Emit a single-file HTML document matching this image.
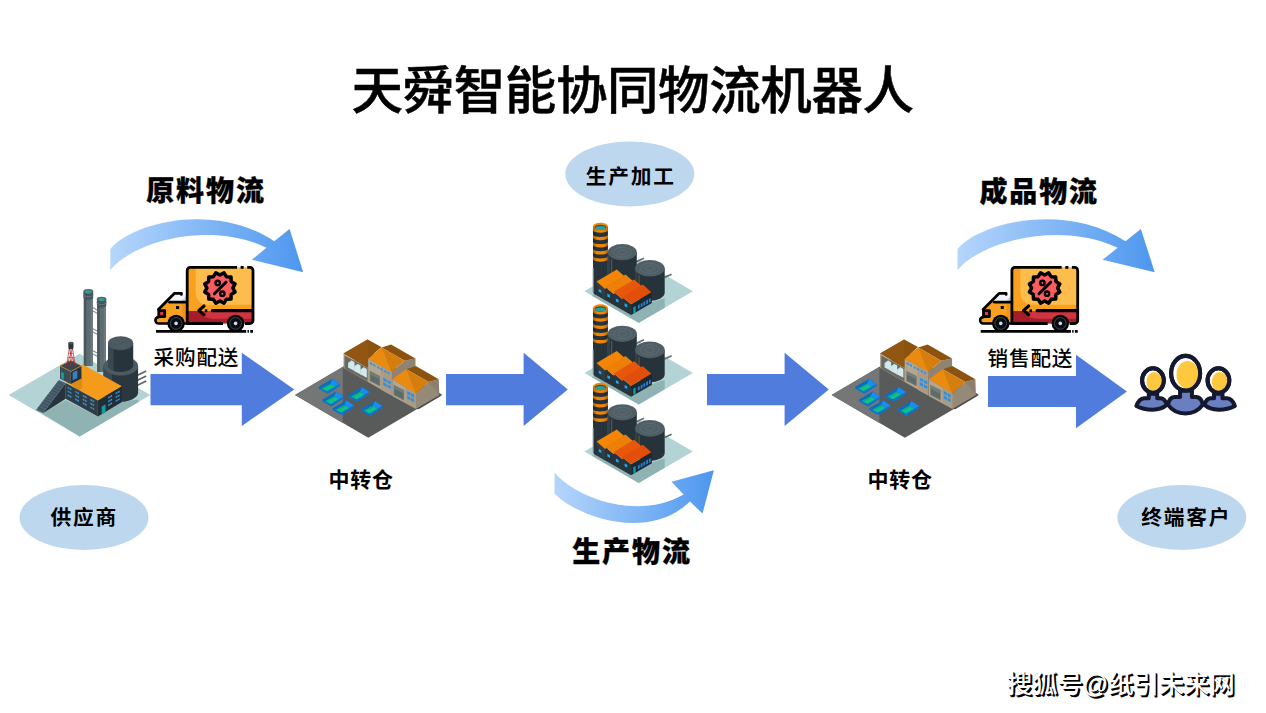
<!DOCTYPE html>
<html lang="zh-CN">
<head>
<meta charset="utf-8">
<title>天舜智能协同物流机器人</title>
<style>
html,body{margin:0;padding:0;background:#fff;}
body{width:1266px;height:713px;position:relative;overflow:hidden;font-family:"Liberation Sans","Noto Sans CJK SC",sans-serif;color:#000;}
#art{position:absolute;left:0;top:0;width:1266px;height:713px;display:block;}
.t{position:absolute;white-space:nowrap;line-height:1;margin:0;}
.title{left:351.5px;top:66px;font-size:51.5px;font-weight:500;font-family:"Liberation Sans","Noto Sans CJK SC Medium","Noto Sans CJK SC",sans-serif;-webkit-text-stroke:0.5px #000;letter-spacing:-0.4px;}
.h{font-size:28px;font-weight:900;letter-spacing:1.9px;-webkit-text-stroke:0.3px #000;}
.lb{font-size:20.7px;font-weight:700;letter-spacing:1.8px;}
.sm{font-size:20.6px;font-weight:500;font-family:"Liberation Sans","Noto Sans CJK SC Medium","Noto Sans CJK SC",sans-serif;letter-spacing:0.9px;}
.wm{font-size:25.25px;font-weight:500;font-family:"Liberation Sans","Noto Sans CJK SC Medium","Noto Sans CJK SC",sans-serif;color:#fff;text-shadow:1px 1px 0 #000,1.9px 1.9px 0 #000;}
</style>
</head>
<body>
<svg id="art" width="1266" height="713" viewBox="0 0 1266 713">
<defs>
<linearGradient id="gArcL" gradientUnits="userSpaceOnUse" x1="110" y1="0" x2="303" y2="0"><stop offset="0" stop-color="#b6d6fb"/><stop offset="1" stop-color="#4d97ef"/></linearGradient>
<linearGradient id="gArcR" gradientUnits="userSpaceOnUse" x1="957" y1="0" x2="1155" y2="0"><stop offset="0" stop-color="#b6d6fb"/><stop offset="1" stop-color="#4d97ef"/></linearGradient>
<linearGradient id="gArcB" gradientUnits="userSpaceOnUse" x1="554" y1="0" x2="714" y2="0"><stop offset="0" stop-color="#b6d6fb"/><stop offset="1" stop-color="#4d97ef"/></linearGradient>
<linearGradient id="gCh" x1="0" y1="0" x2="1" y2="0"><stop offset="0" stop-color="#000" stop-opacity="0.28"/><stop offset="0.3" stop-color="#000" stop-opacity="0"/><stop offset="0.7" stop-color="#000" stop-opacity="0"/><stop offset="1" stop-color="#000" stop-opacity="0.22"/></linearGradient>
</defs>
<!-- label ellipses -->
<g id="ellipses" fill="#bdd7ee">
<ellipse cx="629.8" cy="174" rx="64.5" ry="32.5"/>
<ellipse cx="84" cy="517.5" rx="64.5" ry="32.4"/>
<ellipse cx="1181.8" cy="517.5" rx="64.5" ry="32.4"/>
</g>
<!-- block arrows -->
<g id="arrows" fill="#4f7cdd">
<path d="M150.5 374H241.8V352.8L294.3 389.4L241.8 426V405.3H150.5Z"/>
<path d="M446 374H523.6V352.8L567.8 389.4L523.6 426V405.3H446Z"/>
<path d="M707 374H784.6V352.8L828.8 389.4L784.6 426V405.3H707Z"/>
<path d="M988 376H1076V354.7L1126.9 391.5L1076 428.3V407.1H988Z"/>
</g>
<!--ICONS1-->
<!-- curved gradient arrows -->
<g id="curves">
<path fill="url(#gArcL)" d="M110.3 249C133 222 215 202 274.2 241.2L289.6 229.1L303.2 272.2L251.8 259.8L266.4 247.8C212 221 135 240 110.3 270Z"/>
<path fill="url(#gArcR)" d="M957.5 249C980.8 222 1064.8 202 1125.5 241.2L1140.9 229.1L1154.7 272.2L1102.6 259.8L1117.7 247.8C1061.7 221 982.8 240 957.5 270Z"/>
<path fill="url(#gArcB)" d="M554.5 472.5C578 500 640 520 683.6 494.6L671.5 481.8L713.9 470.2L702.5 513.6L690 501.5C648 542 578 517 554.5 493.7Z"/>
</g>
<!-- delivery trucks -->
<g id="truck">
<path d="M156 331.3H246.2M247.5 331.3H248.9M250.2 331.3H253" stroke="#000" stroke-width="2.8" fill="none"/>
<!-- cab -->
<path d="M165.6 302H187V323.5H158.6A3.2 3.2 0 0 1 158.6 317.1L158.4 309.4Z" fill="#f9a11f"/>
<path d="M181.9 303.5H187V322H181.9Z" fill="#ef9320"/>
<path d="M175.8 294.7H186V301H169.6Z" fill="#f0f5fc"/>
<path d="M181.6 301L186 295.6V301Z" fill="#c1d6f0"/>
<path d="M181.4 294.4V293.4H174.3L158.4 309.4" stroke="#000" stroke-width="2.8" fill="none" stroke-linecap="round" stroke-linejoin="round"/>
<rect x="158.8" y="310.6" width="5.9" height="5.9" fill="#e5394b" stroke="#000" stroke-width="2.8" stroke-linejoin="round"/>
<path d="M158.8 317.1H158.6A3.2 3.2 0 0 0 158.6 323.5H187" stroke="#000" stroke-width="2.6" fill="none" stroke-linecap="round" stroke-linejoin="round"/>
<path d="M169.6 302.2H187" stroke="#000" stroke-width="2.8" fill="none" stroke-linecap="round"/>
<rect x="176" y="306" width="3.1" height="3" fill="#000"/>
<!-- box -->
<path d="M187.2 270.5A3 3 0 0 1 190.2 267.5H250A3 3 0 0 1 253 270.5V320.5A3 3 0 0 1 250 323.5H187.2Z" fill="#f9a11f"/>
<path d="M187.2 311H253V320.5A3 3 0 0 1 250 323.5H187.2Z" fill="#a51d28"/>
<path d="M195.6 267.5H253V304.8H208.6Q195.6 304.8 195.6 291Z" fill="#fdbc4b"/>
<path d="M198.5 311H253V318.8H213Q203 318.8 198.5 311Z" fill="#cf3440"/>
<path d="M237 267.4H190.2A3 3 0 0 0 187.2 270.4V323.5H223M247.2 267.4H250A3 3 0 0 1 253 270.4V320.5A3 3 0 0 1 250 323.5H245" stroke="#000" stroke-width="2.8" fill="none" stroke-linejoin="round"/>
<rect x="240.6" y="266" width="3.1" height="2.8" fill="#000"/>
<path d="M212.4 310.7H252" stroke="#000" stroke-width="3.2" fill="none" stroke-linecap="round"/>
<rect x="204.8" y="309.3" width="2.5" height="2.9" fill="#000"/>
<path d="M204 306L198.9 310.4L204 314.7" stroke="#000" stroke-width="3.1" fill="none" stroke-linecap="round" stroke-linejoin="round"/>
<!-- badge -->
<path d="M224.0 272.8L226.4 276.7L231.0 276.9L231.2 281.5L235.1 283.9L232.9 288.0L235.1 292.1L231.2 294.5L231.0 299.1L226.4 299.3L224.0 303.2L219.9 301.0L215.8 303.2L213.4 299.3L208.8 299.1L208.6 294.5L204.7 292.1L206.9 288.0L204.7 283.9L208.6 281.5L208.8 276.9L213.4 276.7L215.8 272.8L219.9 275.0Z" fill="#fb5c60" stroke="#000" stroke-width="3.5" stroke-linejoin="round"/>
<path d="M226 282.2L214.3 293.8" stroke="#000" stroke-width="3" fill="none" stroke-linecap="round"/>
<circle cx="217.7" cy="282.9" r="2.2" fill="none" stroke="#000" stroke-width="2.4"/>
<circle cx="222.3" cy="293.7" r="2.2" fill="none" stroke="#000" stroke-width="2.4"/>
<!-- wheels -->
<g id="wheel">
<circle cx="176.1" cy="323.4" r="8.7" fill="#000"/>
<circle cx="176.1" cy="323.4" r="5.9" fill="#0b0d10" stroke="#4a5a66" stroke-width="0.8"/>
<circle cx="176.1" cy="323.4" r="1.8" fill="#c9def4"/>
</g>
<use href="#wheel" x="59.5" y="0"/>
</g>
<use href="#truck" x="824.7" y="0"/>
<!-- customers -->
<g id="people" transform="translate(1120 340) scale(0.12621)" stroke="#15192f" stroke-width="32" stroke-linejoin="round">
<path d="M228 425V462H192Q150 466 130 523Q185 552 258 552Q330 552 372 514Q355 466 325 462H295V425Z" fill="#6a7fc1"/>
<path d="M812 425V462H848Q890 466 910 523Q855 552 782 552Q710 552 668 514Q685 466 715 462H745V425Z" fill="#6a7fc1"/>
<path d="M476 400V451H432Q388 455 381 514Q430 582 518 582Q606 582 655 514Q648 455 604 451H570V400Z" fill="#6a7fc1"/>
<ellipse cx="261" cy="321" rx="86" ry="97" fill="#fff"/>
<ellipse cx="780" cy="321" rx="86" ry="97" fill="#fff"/>
<ellipse cx="520" cy="263.4" rx="115" ry="137.5" fill="#fff"/>
<g stroke="none" fill="#fec93f">
<ellipse cx="272" cy="332" rx="62" ry="79"/>
<ellipse cx="790" cy="332" rx="62" ry="79"/>
<ellipse cx="535.6" cy="277" rx="88" ry="111"/>
</g>
<g fill="none">
<ellipse cx="261" cy="321" rx="86" ry="97"/>
<ellipse cx="780" cy="321" rx="86" ry="97"/>
<ellipse cx="520" cy="263.4" rx="115" ry="137.5"/>
</g>
</g>
<!--/ICONS1-->
<!--ICONS2-->
<g id="supplier">
<polygon points="8.6,395.1 79.6,353.8 150.4,395.1 79.6,436.6" fill="#b3d3d4"/>
<polygon points="42.3,413.6 65.7,399.9 97.3,416.6 122.0,402.1 137.8,399.5 139.0,401.8 79.6,436.6" fill="#8fb2b3"/>
<path d="M92.6 307.5L97.6 310.3M92.6 310.7L97.6 313.5M92.6 328.5L97.6 331.3M92.6 331.7L97.6 334.5M92.6 350.5L97.6 353.3M92.6 353.7L97.6 356.5" stroke="#84929a" stroke-width="1.1" fill="none"/>
<path d="M83.8 291.5V366H92.9V291.5Z" fill="#5e6d72"/>
<path d="M83.8 291.5V366H86.39999999999999V291.5Z" fill="#4a585d"/>
<path d="M90.7 291.5V366H92.9V291.5Z" fill="#6c7b80"/>
<path d="M83.5 291.5V297.3A4.850000000000004 2.4 0 0 0 93.2 297.3V291.5Z" fill="#46545a"/>
<path d="M83.5 294.40000000000003A4.850000000000004 2.4 0 0 0 93.2 294.40000000000003" fill="none" stroke="#6f7e84" stroke-width="0.8"/>
<ellipse cx="88.35" cy="291.5" rx="4.850000000000004" ry="2.4" fill="#55656b"/>
<ellipse cx="88.35" cy="291.7" rx="3.2500000000000044" ry="1.5" fill="#2f9d98"/>
<path d="M97.2 299.2V372H106V299.2Z" fill="#5e6d72"/>
<path d="M97.2 299.2V372H99.8V299.2Z" fill="#4a585d"/>
<path d="M103.8 299.2V372H106V299.2Z" fill="#6c7b80"/>
<path d="M96.9 299.2V305.0A4.699999999999998 2.4 0 0 0 106.3 305.0V299.2Z" fill="#46545a"/>
<path d="M96.9 302.1A4.699999999999998 2.4 0 0 0 106.3 302.1" fill="none" stroke="#6f7e84" stroke-width="0.8"/>
<ellipse cx="101.6" cy="299.2" rx="4.699999999999998" ry="2.4" fill="#55656b"/>
<ellipse cx="101.6" cy="299.4" rx="3.0999999999999988" ry="1.5" fill="#2f9d98"/>
<path d="M137 375.4L146.2 371M137 380.4L146.2 376M137 385.4L146.2 381" stroke="#55656c" stroke-width="1.7" fill="none"/>
<path d="M103.5 366V392.2A17.3 9.6 0 0 0 138.1 392.2V366Z" fill="#2a373e"/>
<path d="M103.5 366V392.2A17.3 9.6 0 0 0 112 400.4V374Z" fill="#3b4950"/>
<ellipse cx="120.8" cy="366" rx="17.3" ry="9.6" fill="#4c5b62"/>
<path d="M108 343.2V365A12.6 7 0 0 0 133.2 365V343.2Z" fill="#27343b"/>
<path d="M108 343.2V365A12.6 7 0 0 0 113.6 370.8V349Z" fill="#3a484f"/>
<ellipse cx="120.6" cy="343.2" rx="12.6" ry="7" fill="#4a595f"/>
<ellipse cx="120.6" cy="343.2" rx="8.3" ry="4.6" fill="none" stroke="#55646a" stroke-width="0.6"/>
<ellipse cx="120.6" cy="343.2" rx="4.3" ry="2.4" fill="none" stroke="#566469" stroke-width="0.6"/>
<polygon points="65.7,382.6 70.8,381.6 80.9,378.1 82.4,364.2 122.0,386.3 97.9,400.6" fill="#f49b1c"/>
<polygon points="70.8,383.9 82.1,377.8 82.1,387.9 78.4,390.2" fill="#dc8a18"/>
<polygon points="65.7,383.1 97.9,400.6 97.9,416.6 65.7,398.7" fill="#2f3c44"/>
<polygon points="97.9,400.6 122.0,386.3 122.0,402.1 97.9,416.6" fill="#222e35"/>
<polygon points="67.6,386.7 71.4,388.7 71.4,390.3 67.6,388.3" fill="#3a94dc"/>
<polygon points="69.3,387.5 69.8,387.8 69.8,389.4 69.3,389.2" fill="#2f3c44"/>
<polygon points="67.6,390.4 71.4,392.5 71.4,394.1 67.6,392.1" fill="#3a94dc"/>
<polygon points="69.3,391.3 69.8,391.6 69.8,393.2 69.3,393.0" fill="#2f3c44"/>
<polygon points="67.6,394.2 71.4,396.3 71.4,397.9 67.6,395.9" fill="#3a94dc"/>
<polygon points="69.3,395.1 69.8,395.4 69.8,397.0 69.3,396.8" fill="#2f3c44"/>
<polygon points="75.2,390.7 79.0,392.7 79.0,394.4 75.2,392.3" fill="#3a94dc"/>
<polygon points="76.8,391.6 77.3,391.8 77.3,393.5 76.8,393.2" fill="#2f3c44"/>
<polygon points="75.2,394.5 79.0,396.5 79.0,398.2 75.2,396.1" fill="#3a94dc"/>
<polygon points="76.8,395.4 77.3,395.6 77.3,397.3 76.8,397.0" fill="#2f3c44"/>
<polygon points="75.2,398.3 79.0,400.3 79.0,401.9 75.2,399.9" fill="#3a94dc"/>
<polygon points="76.8,399.2 77.3,399.4 77.3,401.1 76.8,400.8" fill="#2f3c44"/>
<polygon points="82.8,394.7 86.6,396.8 86.6,398.4 82.8,396.4" fill="#3a94dc"/>
<polygon points="84.4,395.6 84.9,395.9 84.9,397.5 84.4,397.3" fill="#2f3c44"/>
<polygon points="82.8,398.5 86.6,400.6 86.6,402.2 82.8,400.2" fill="#3a94dc"/>
<polygon points="84.4,399.4 84.9,399.7 84.9,401.3 84.4,401.1" fill="#2f3c44"/>
<polygon points="82.8,402.3 86.6,404.3 86.6,406.0 82.8,404.0" fill="#3a94dc"/>
<polygon points="84.4,403.2 84.9,403.5 84.9,405.1 84.4,404.8" fill="#2f3c44"/>
<polygon points="90.4,398.8 94.2,400.8 94.2,402.4 90.4,400.4" fill="#3a94dc"/>
<polygon points="92.0,399.7 92.5,399.9 92.5,401.6 92.0,401.3" fill="#2f3c44"/>
<polygon points="90.4,402.6 94.2,404.6 94.2,406.2 90.4,404.2" fill="#3a94dc"/>
<polygon points="92.0,403.5 92.5,403.7 92.5,405.4 92.0,405.1" fill="#2f3c44"/>
<polygon points="90.4,406.4 94.2,408.4 94.2,410.0 90.4,408.0" fill="#3a94dc"/>
<polygon points="92.0,407.3 92.5,407.5 92.5,409.1 92.0,408.9" fill="#2f3c44"/>
<polygon points="108.1,397.0 112.1,394.7 112.1,396.4 108.1,398.7" fill="#3a94dc"/>
<polygon points="109.8,396.0 110.3,395.8 110.3,397.4 109.8,397.6" fill="#222e35"/>
<polygon points="108.1,400.8 112.1,398.5 112.1,400.2 108.1,402.4" fill="#3a94dc"/>
<polygon points="109.8,399.8 110.3,399.5 110.3,401.2 109.8,401.4" fill="#222e35"/>
<polygon points="108.1,404.6 112.1,402.3 112.1,404.0 108.1,406.2" fill="#3a94dc"/>
<polygon points="109.8,403.6 110.3,403.3 110.3,405.0 109.8,405.2" fill="#222e35"/>
<polygon points="115.6,392.8 119.7,390.6 119.7,392.2 115.6,394.5" fill="#3a94dc"/>
<polygon points="117.4,391.8 117.9,391.6 117.9,393.2 117.4,393.5" fill="#222e35"/>
<polygon points="115.6,396.6 119.7,394.4 119.7,396.0 115.6,398.3" fill="#3a94dc"/>
<polygon points="117.4,395.6 117.9,395.4 117.9,397.0 117.4,397.3" fill="#222e35"/>
<polygon points="115.6,400.4 119.7,398.2 119.7,399.8 115.6,402.1" fill="#3a94dc"/>
<polygon points="117.4,399.4 117.9,399.2 117.9,400.8 117.4,401.1" fill="#222e35"/>
<polygon points="101.7,406.5 105.5,404.3 105.5,412.2 101.7,414.2" fill="#169d9b"/>
<polygon points="43.0,413.2 65.7,383.1 65.7,398.7" fill="#27343b"/>
<polygon points="36.0,410.0 43.0,413.2 65.7,383.1 58.8,380.1" fill="#4b5f6e"/>
<path d="M37.9 407.5L44.9 410.7M39.8 405.0L46.8 408.2M41.7 402.5L48.7 405.7M43.6 400.0L50.6 403.2M45.5 397.6L52.4 400.7M47.4 395.1L54.3 398.2M49.3 392.6L56.2 395.6M51.2 390.1L58.1 393.1M53.1 387.6L60.0 390.6M55.0 385.1L61.9 388.1M56.9 382.6L63.8 385.6" stroke="#35475a" stroke-width="0.7" fill="none"/>
<polygon points="60.0,365.8 70.8,371.5 70.8,383.9 60.0,378.8" fill="#3d4b53"/>
<polygon points="70.8,371.5 81.5,365.8 81.5,378.4 70.8,383.9" fill="#27333a"/>
<polygon points="60.0,365.8 70.8,360.4 81.5,365.8 70.8,371.5" fill="#39464d" stroke="#f0981c" stroke-width="0.6"/>
<polygon points="61.2,371.7 63.8,373.1 63.8,379.7 61.2,378.3" fill="#17a19c"/>
<polygon points="72.7,372.5 77.3,370.2 77.3,378.1 72.7,380.3" fill="#3a7fc0"/>
<path d="M69.2 349L66.6 365M72.6 349L75.2 365M70.9 349V366.5M69.2 349L75.2 365M72.6 349L66.6 365M68.5 353.4H73.3M67.9 357.6H73.9M67.2 361.6H74.6" stroke="#b9242b" stroke-width="0.65" fill="none"/>
<path d="M68.3 343V348A2.6 1.3 0 0 0 73.5 348V343Z" fill="#2b3840"/>
<ellipse cx="70.9" cy="343" rx="2.6" ry="1.3" fill="#46555c"/>
</g>
<g id="wh">
<polygon points="295,395 368.7,351.6 442,394.4 368.3,437.8" fill="#595a5a"/>
<polygon points="295,395 342.8,366.9 342.8,423 " fill="#757676"/>
<polygon points="318.3,387.1 332.5,378.8 340.2,383.9 339.8,385.9 328.9,393.3 327.5,393.7 318.9,388.8" fill="#1273c6"/>
<polygon points="318.6,387.1 332.5,379.1 330.3,383.9 321.8,388.4" fill="#0f6bbb"/>
<polygon points="330.3,383.9 332.5,379.1 339.7,383.9 335.0,386.5" fill="#1b8df0"/>
<polygon points="321.8,388.4 330.3,383.9 335.0,386.5 327.1,391.2" fill="#0bc28c"/>
<polygon points="321.8,388.4 330.3,383.9 331.5,384.6 323.1,389.1" fill="#0aab7e"/>
<polygon points="322.0,399.8 336.2,391.5 343.9,396.6 343.5,398.6 332.6,406.0 331.2,406.4 322.6,401.5" fill="#1273c6"/>
<polygon points="322.3,399.8 336.2,391.8 334.0,396.6 325.5,401.1" fill="#0f6bbb"/>
<polygon points="334.0,396.6 336.2,391.8 343.4,396.6 338.7,399.2" fill="#1b8df0"/>
<polygon points="325.5,401.1 334.0,396.6 338.7,399.2 330.8,403.9" fill="#0bc28c"/>
<polygon points="325.5,401.1 334.0,396.6 335.2,397.3 326.8,401.8" fill="#0aab7e"/>
<polygon points="347.8,395.2 362.0,386.9 369.7,392.0 369.3,394.0 358.4,401.4 357.0,401.8 348.4,396.9" fill="#1273c6"/>
<polygon points="348.1,395.2 362.0,387.2 359.8,392.0 351.3,396.5" fill="#0f6bbb"/>
<polygon points="359.8,392.0 362.0,387.2 369.2,392.0 364.5,394.6" fill="#1b8df0"/>
<polygon points="351.3,396.5 359.8,392.0 364.5,394.6 356.6,399.3" fill="#0bc28c"/>
<polygon points="351.3,396.5 359.8,392.0 361.0,392.7 352.6,397.2" fill="#0aab7e"/>
<polygon points="332.3,408.5 346.5,400.2 354.2,405.3 353.8,407.3 342.9,414.7 341.5,415.1 332.9,410.2" fill="#1273c6"/>
<polygon points="332.6,408.5 346.5,400.5 344.3,405.3 335.8,409.8" fill="#0f6bbb"/>
<polygon points="344.3,405.3 346.5,400.5 353.7,405.3 349.0,407.9" fill="#1b8df0"/>
<polygon points="335.8,409.8 344.3,405.3 349.0,407.9 341.1,412.6" fill="#0bc28c"/>
<polygon points="335.8,409.8 344.3,405.3 345.5,406.0 337.1,410.5" fill="#0aab7e"/>
<polygon points="360.7,409.3 374.9,401.0 382.6,406.1 382.2,408.1 371.3,415.5 369.9,415.9 361.3,411.0" fill="#1273c6"/>
<polygon points="361.0,409.3 374.9,401.3 372.7,406.1 364.2,410.6" fill="#0f6bbb"/>
<polygon points="372.7,406.1 374.9,401.3 382.1,406.1 377.4,408.7" fill="#1b8df0"/>
<polygon points="364.2,410.6 372.7,406.1 377.4,408.7 369.5,413.4" fill="#0bc28c"/>
<polygon points="364.2,410.6 372.7,406.1 373.9,406.8 365.5,411.3" fill="#0aab7e"/>
<polygon points="415.8,408.7 439.3,395.0 442.1,395.3 418.6,409.2" fill="#4a4b4b"/>
<polygon points="343.5,354.1 368.1,367.6 368.1,382.1 343.5,368.1" fill="#a59a86"/>
<polygon points="344.7,355.8 367.5,368.1 367.5,381.1 344.7,368.4" fill="#6a6863"/>
<polygon points="348.1,363.0 351.6,360.6 354.5,362.3 354.5,371.1 348.1,367.6" fill="#d3eaeb"/>
<polygon points="348.1,363.0 351.6,360.6 352.4,361.1 349.0,363.7 349.0,368.1 348.1,367.6" fill="#bfdfe0"/>
<polygon points="354.2,366.3 357.7,363.9 360.6,365.6 360.6,374.4 354.2,370.9" fill="#d3eaeb"/>
<polygon points="354.2,366.3 357.7,363.9 358.5,364.4 355.1,367.0 355.1,371.4 354.2,370.9" fill="#bfdfe0"/>
<polygon points="360.3,369.7 363.8,367.2 366.8,368.9 366.8,377.7 360.3,374.2" fill="#d3eaeb"/>
<polygon points="360.3,369.7 363.8,367.2 364.7,367.7 361.3,370.3 361.3,374.8 360.3,374.2" fill="#bfdfe0"/>
<polygon points="343.5,353.6 367.6,339.5 381.4,347.0 368.1,358.9 368.1,367.6" fill="#8c5310"/>
<polygon points="343.5,353.6 367.6,339.5 368.1,358.9 368.1,367.6" fill="#915611"/>
<polygon points="391.7,371.7 404.6,360.8 415.5,358.6 415.5,367.6 406.3,369.8 392.2,379.9" fill="#8f8472"/>
<polygon points="381.6,347.4 391.1,344.6 415.5,358.6 404.6,360.8" fill="#8c5310"/>
<polygon points="368.1,358.9 381.6,347.4 404.6,360.8 391.7,371.7" fill="#d57d0d"/>
<polygon points="368.1,358.9 381.6,347.4 391.5,371.7" fill="#e88b10"/>
<polygon points="368.1,358.9 391.7,371.7 391.7,395.6 368.1,382.1" fill="#b4a690"/>
<polygon points="381.0,366.1 391.7,371.7 391.7,395.6 381.0,389.7" fill="#a99b86"/>
<polygon points="370.0,362.1 372.3,363.3 372.3,365.2 370.0,364.0" fill="#2e8fe2"/>
<polygon points="373.2,363.8 375.4,365.0 375.4,366.9 373.2,365.7" fill="#2e8fe2"/>
<polygon points="377.1,366.0 379.3,367.2 379.3,369.1 377.1,367.9" fill="#2e8fe2"/>
<polygon points="380.2,367.7 382.5,368.9 382.5,370.8 380.2,369.6" fill="#2e8fe2"/>
<polygon points="384.1,369.7 386.3,370.9 386.3,372.8 384.1,371.6" fill="#2e8fe2"/>
<polygon points="387.2,371.4 389.4,372.6 389.4,374.5 387.2,373.3" fill="#2e8fe2"/>
<polygon points="369.5,370.4 380.2,376.0 380.2,386.6 369.5,381.0" fill="#8d826f"/>
<polygon points="370.4,371.7 379.6,376.5 379.6,385.5 370.4,380.7" fill="#5c6c6c"/>
<polygon points="370.4,371.7 379.6,376.5 379.6,379.3 370.4,374.5" fill="#6f7f7e"/>
<polygon points="383.3,377.7 386.6,379.5 386.6,382.4 383.3,380.6" fill="#2e8fe2"/>
<polygon points="387.4,379.9 390.8,381.7 390.8,384.6 387.4,382.8" fill="#2e8fe2"/>
<polygon points="383.3,382.1 386.6,383.9 386.6,386.9 383.3,385.1" fill="#2e8fe2"/>
<polygon points="387.4,384.4 390.8,386.2 390.8,389.1 387.4,387.3" fill="#2e8fe2"/>
<polygon points="415.8,393.4 428.7,382.1 438.8,379.3 439.3,395.0 415.8,408.7" fill="#8b806e"/>
<polygon points="415.8,393.4 428.7,382.1 439.3,395.0 415.8,408.7" fill="#958a77"/>
<polygon points="406.3,369.3 415.8,366.1 438.8,379.3 428.7,382.1" fill="#8c5310"/>
<polygon points="392.2,379.3 406.3,369.3 428.7,382.1 415.8,393.4" fill="#d57d0d"/>
<polygon points="392.2,379.3 406.3,369.3 415.6,393.4" fill="#e88b10"/>
<polygon points="392.2,379.3 415.8,393.4 415.8,408.7 392.2,395.9" fill="#b4a690"/>
<polygon points="405.4,387.2 415.8,393.4 415.8,408.7 405.4,403.1" fill="#a99b86"/>
<polygon points="393.4,384.4 404.2,390.0 404.2,400.9 393.4,395.0" fill="#8d826f"/>
<polygon points="394.3,385.8 403.6,390.6 403.6,399.5 394.3,394.8" fill="#5c6c6c"/>
<polygon points="394.3,385.8 403.6,390.6 403.6,393.4 394.3,388.7" fill="#6f7f7e"/>
<polygon points="407.2,391.1 410.3,392.8 410.3,395.7 407.2,394.0" fill="#2e8fe2"/>
<polygon points="411.0,393.1 414.1,394.8 414.1,397.7 411.0,396.1" fill="#2e8fe2"/>
<polygon points="407.2,395.6 410.3,397.3 410.3,400.2 407.2,398.5" fill="#2e8fe2"/>
<polygon points="411.0,397.6 414.1,399.3 414.1,402.2 411.0,400.5" fill="#2e8fe2"/>
</g>
<use href="#wh" x="536.6" y="0"/>
<g id="prod">
<polygon points="584.4,291.3 638.7,259.6 692.9,291.3 638.7,322.9" fill="#b3d3d4"/>
<polygon points="591.8,295.7 594.7,293.8 631.1,314.4 652.7,302.1 664.7,298.2 664.7,307.7 638.7,322.8" fill="#8fb2b3"/>
<path d="M636.5 261.6L644 258.2M664.6 277.4L671.6 274.2" stroke="#5f7079" stroke-width="1.8" fill="none"/>
<path d="M632 268.4L636 270.2M632 272.6L636 274.4" stroke="#6c7b82" stroke-width="1.4" fill="none"/>
<path d="M593.0 226.6V292A7.45 3.6 0 0 0 607.9000000000001 292V226.6Z" fill="#26333b"/>
<path d="M592.7 268V292L593.9 293.2V268Z" fill="#7b898f"/>
<path d="M593.0 227.1A7.45 2.4 0 0 0 607.9000000000001 227.1V230.4A7.45 2.4 0 0 1 593.0 230.4Z" fill="#f08508"/>
<path d="M593.0 234.5A7.45 2.4 0 0 0 607.9000000000001 234.5V237.8A7.45 2.4 0 0 1 593.0 237.8Z" fill="#f08508"/>
<path d="M593.0 241.7A7.45 2.4 0 0 0 607.9000000000001 241.7V245.0A7.45 2.4 0 0 1 593.0 245.0Z" fill="#f08508"/>
<path d="M593.0 248.9A7.45 2.4 0 0 0 607.9000000000001 248.9V252.20000000000002A7.45 2.4 0 0 1 593.0 252.20000000000002Z" fill="#f08508"/>
<path d="M593.0 256.1A7.45 2.4 0 0 0 607.9000000000001 256.1V259.40000000000003A7.45 2.4 0 0 1 593.0 259.40000000000003Z" fill="#f08508"/>
<path d="M593.0 227V262H607.9000000000001V227Z" fill="url(#gCh)"/>
<ellipse cx="600.45" cy="226.6" rx="7.55" ry="3.9" fill="#f08508"/>
<ellipse cx="600.45" cy="227.4" rx="5.9" ry="2.7" fill="#4a4a3c"/>
<ellipse cx="600.45" cy="227.9" rx="5.2" ry="2" fill="#22a39c"/>
<path d="M607.8 252.2V280A14.5 8.1 0 0 0 636.8 280V252.2Z" fill="#26333b"/>
<path d="M607.8 252.2V280A14.5 8.1 0 0 0 610.0 283.6V254.7Z" fill="#33424a"/>
<path d="M611.7 259.2V285" stroke="#c98519" stroke-width="0.5" fill="none"/>
<ellipse cx="622.3" cy="252.2" rx="14.5" ry="8.1" fill="#505f66"/>
<ellipse cx="622.3" cy="252.2" rx="9.0" ry="5.0" fill="none" stroke="#647279" stroke-width="0.6"/>
<ellipse cx="622.3" cy="252.2" rx="4.3" ry="2.4" fill="none" stroke="#647279" stroke-width="0.6"/>
<path d="M635.1 268.3V292.6A14.8 8.3 0 0 0 664.6999999999999 292.6V268.3Z" fill="#26333b"/>
<path d="M635.1 268.3V292.6A14.8 8.3 0 0 0 637.3000000000001 296.20000000000005V270.8Z" fill="#33424a"/>
<path d="M639 275.3V297.6" stroke="#c98519" stroke-width="0.5" fill="none"/>
<ellipse cx="649.9" cy="268.3" rx="14.8" ry="8.3" fill="#505f66"/>
<ellipse cx="649.9" cy="268.3" rx="9.2" ry="5.1" fill="none" stroke="#647279" stroke-width="0.6"/>
<ellipse cx="649.9" cy="268.3" rx="4.4" ry="2.5" fill="none" stroke="#647279" stroke-width="0.6"/>
<polygon points="631.0,304.2 651.5,292.3 651.9,293.1 651.9,303.1 631.1,315.1" fill="#1d2930"/>
<polygon points="596.2,281.7 605.0,288.9 605.1,286.8 613.7,294.0 613.8,292.0 622.3,299.1 622.4,297.1 631.0,304.2 631.1,315.1 594.7,294.3" fill="#27343c"/>
<polygon points="596.2,281.7 605.0,288.9 605.0,300.2 603.4,299.2 596.2,284.5" fill="#2f3d45"/>
<polygon points="596.5,281.5 616.8,269.5 625.4,276.9 605.0,288.9" fill="#f38606"/>
<polygon points="605.1,286.7 625.5,274.5 634.0,282.0 613.7,294.0" fill="#ef8108"/>
<path d="M607.4 285.3L615.9 292.7M609.7 284.0L618.2 291.3M611.9 282.6L620.5 290.0M614.2 281.3L622.7 288.7M616.4 279.9L625.0 287.3M618.7 278.6L627.2 286.0M621.0 277.2L629.5 284.7M623.2 275.9L631.8 283.3" stroke="#000" stroke-opacity="0.07" stroke-width="0.5" fill="none"/>
<polygon points="613.8,291.8 634.1,279.6 642.7,287.1 622.3,299.1" fill="#ea580b"/>
<path d="M616.0 290.5L624.6 297.8M618.3 289.1L626.8 296.4M620.6 287.7L629.1 295.1M622.8 286.4L631.4 293.8M625.1 285.0L633.6 292.4M627.3 283.6L635.9 291.1M629.6 282.3L638.1 289.8M631.9 280.9L640.4 288.4" stroke="#000" stroke-opacity="0.07" stroke-width="0.5" fill="none"/>
<polygon points="622.4,297.0 642.8,284.6 651.3,292.2 631.0,304.2" fill="#e4500a"/>
<path d="M624.7 295.6L633.2 302.9M626.9 294.2L635.5 301.5M629.2 292.8L637.7 300.2M631.5 291.5L640.0 298.9M633.7 290.1L642.3 297.5M636.0 288.7L644.5 296.2M638.2 287.3L646.8 294.9M640.5 285.9L649.0 293.6" stroke="#000" stroke-opacity="0.07" stroke-width="0.5" fill="none"/>
<polygon points="598.7,288.9 601.3,290.2 601.3,293.0 598.7,291.7" fill="#2aa2ee"/>
<polygon points="607.3,293.6 610.0,294.9 610.0,297.7 607.3,296.4" fill="#2aa2ee"/>
<polygon points="615.9,298.5 618.6,299.8 618.6,302.6 615.9,301.4" fill="#2aa2ee"/>
<polygon points="624.6,303.3 627.2,304.6 627.2,307.4 624.6,306.2" fill="#2aa2ee"/>
<polygon points="637.9,305.3 639.7,304.3 639.7,308.2 637.9,309.2" fill="#2380e0"/>
<polygon points="640.7,303.7 642.5,302.7 642.5,306.6 640.7,307.6" fill="#2380e0"/>
<polygon points="643.4,302.1 645.2,301.1 645.2,305.0 643.4,306.0" fill="#2380e0"/>
<polygon points="646.2,300.5 648.0,299.5 648.0,303.4 646.2,304.4" fill="#2380e0"/>
<polygon points="648.9,298.9 650.7,297.9 650.7,301.8 648.9,302.8" fill="#2380e0"/>
<polygon points="633.3,307.2 635.6,306.0 635.6,312.4 633.3,313.7" fill="#12a0a2"/>
</g>
<use href="#prod" x="0" y="81.6"/>
<use href="#prod" x="0" y="160.1"/>
<!--/ICONS2-->
</svg>
<h1 class="t title">天舜智能协同物流机器人</h1>
<div class="t h" style="left:146.2px;top:177.5px;">原料物流</div>
<div class="t h" style="left:979.4px;top:178.5px;">成品物流</div>
<div class="t h" style="left:572.2px;top:538.8px;">生产物流</div>
<div class="t lb" style="left:585.8px;top:167px;">生产加工</div>
<div class="t lb" style="left:50.6px;top:507.6px;">供应商</div>
<div class="t lb" style="left:1141.3px;top:507.9px;">终端客户</div>
<div class="t lb" style="left:328.6px;top:469.3px;font-size:21px;letter-spacing:0.7px;">中转仓</div>
<div class="t lb" style="left:867.6px;top:469.3px;font-size:21px;letter-spacing:0.7px;">中转仓</div>
<div class="t sm" style="left:153.4px;top:348px;">采购配送</div>
<div class="t sm" style="left:987.4px;top:349.2px;">销售配送</div>
<div class="t wm" style="left:1007px;top:672.3px;">搜狐号@纸引未来网</div>
</body>
</html>
